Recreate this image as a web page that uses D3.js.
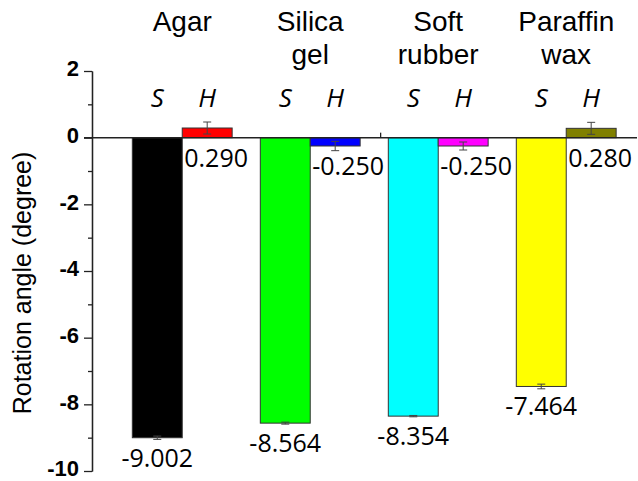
<!DOCTYPE html>
<html>
<head>
<meta charset="utf-8">
<script src="https://cdn.jsdelivr.net/npm/d3@7"></script>
<style>
  body { margin: 0; background: #fff; }
  svg { display: block; }
</style>
</head>
<body>
<div id="chart"></div>
<script>
// chart values
var groupLines = [['Agar'], ['Silica', 'gel'], ['Soft', 'rubber'], ['Paraffin', 'wax']];
var sValues = [-9.002, -8.564, -8.354, -7.464];
var sErrors = [0.05, 0.03, 0.02, 0.07];
var hValues = [0.290, -0.250, -0.250, 0.280];
var hErrors = [0.18, 0.14, 0.12, 0.18];
var sColors = ['#000000', '#00ff00', '#00ffff', '#ffff00'];
var hColors = ['#ff0000', '#0000ff', '#ff00ff', '#808000'];
var yMajor = [2, 0, -2, -4, -6, -8, -10];
var yMinor = [1, -1, -3, -5, -7, -9];
var xMarks = [1.55];

var width = 638, height = 481;

// plain hyphen for minus signs, as in the original
var locale = d3.formatLocale({decimal: '.', thousands: ',', grouping: [3], currency: ['', ''], minus: '-'});
var fmt3 = locale.format('.3f');
var fmtInt = locale.format('d');

var x = d3.scaleLinear().domain([-0.705, 3.553]).range([92, 637]);
var y = d3.scaleLinear().domain([-10, 2]).range([471, 71]);
var barW = x(0.39) - x(0);

var svg = d3.select('#chart').append('svg')
  .attr('width', width)
  .attr('height', height);

// y axis
var yAxis = d3.axisLeft(y)
  .tickValues(yMajor)
  .tickSize(8)
  .tickSizeOuter(0)
  .tickPadding(5)
  .tickFormat(fmtInt);

var yMinorAxis = d3.axisLeft(y)
  .tickValues(yMinor)
  .tickSize(4)
  .tickSizeOuter(0)
  .tickFormat('');

var gy = svg.append('g')
  .attr('class', 'y axis')
  .attr('transform', 'translate(' + x.range()[0] + ',0)')
  .call(yAxis);

gy.selectAll('text')
  .style('font-family', '"Liberation Sans", Arial, sans-serif')
  .style('font-weight', 'bold')
  .style('font-size', '22px')
  .attr('dy', '0.22em')
  .attr('fill', '#000');
gy.selectAll('line, path').attr('stroke', '#222').attr('stroke-width', 1.3);

svg.append('g')
  .attr('class', 'y minor axis')
  .attr('transform', 'translate(' + x.range()[0] + ',0)')
  .call(yMinorAxis)
  .selectAll('line, path').attr('stroke', '#222').attr('stroke-width', 1.3);

svg.append('text')
  .attr('transform', 'translate(22,283) rotate(-90)')
  .attr('text-anchor', 'middle')
  .attr('dominant-baseline', 'central')
  .style('font-family', '"Liberation Sans", Arial, sans-serif')
  .style('font-size', '25px')
  .text('Rotation angle (degree)');

// bars
var sBars = sValues.map(function(v, i) {
  return {v: v, e: sErrors[i], c: sColors[i], x0: x(i) - barW};
});
var hBars = hValues.map(function(v, i) {
  return {v: v, e: hErrors[i], c: hColors[i], x0: x(i)};
});
var allBars = sBars.concat(hBars);

svg.append('g').selectAll('rect')
  .data(allBars)
  .enter().append('rect')
  .attr('x', function(d) { return d.x0; })
  .attr('width', barW)
  .attr('y', function(d) { return y(Math.max(d.v, 0)); })
  .attr('height', function(d) { return Math.abs(y(d.v) - y(0)); })
  .attr('fill', function(d) { return d.c; })
  .attr('stroke', '#333')
  .attr('stroke-width', 1);

// error bars
var eb = svg.append('g').selectAll('g')
  .data(allBars)
  .enter().append('g')
  .attr('stroke', '#444')
  .attr('stroke-width', 1);
eb.append('line')
  .attr('x1', function(d) { return d.x0 + barW / 2; })
  .attr('x2', function(d) { return d.x0 + barW / 2; })
  .attr('y1', function(d) { return y(d.v + d.e); })
  .attr('y2', function(d) { return y(d.v - d.e); });
eb.selectAll('line.cap')
  .data(function(d) { return [d.v + d.e, d.v - d.e].map(function(t) { return {t: t, cx: d.x0 + barW / 2}; }); })
  .enter().append('line')
  .attr('class', 'cap')
  .attr('x1', function(d) { return d.cx - 4; })
  .attr('x2', function(d) { return d.cx + 4; })
  .attr('y1', function(d) { return y(d.t); })
  .attr('y2', function(d) { return y(d.t); });

// zero line
svg.append('line')
  .attr('x1', x.range()[0] - 8)
  .attr('x2', x.range()[1])
  .attr('y1', y(0))
  .attr('y2', y(0))
  .attr('stroke', '#222')
  .attr('stroke-width', 1.5);

svg.selectAll('line.xmark')
  .data(xMarks)
  .enter().append('line')
  .attr('class', 'xmark')
  .attr('x1', function(d) { return x(d); })
  .attr('x2', function(d) { return x(d); })
  .attr('y1', y(0))
  .attr('y2', y(0) - 5)
  .attr('stroke', '#222')
  .attr('stroke-width', 1.3);

// value labels
var valueFont = '"Open Sans", "Noto Sans", sans-serif';
svg.append('g').selectAll('text')
  .data(sBars)
  .enter().append('text')
  .attr('x', function(d) { return d.x0 + barW / 2; })
  .attr('y', function(d) { return y(d.v) + 29; })
  .attr('text-anchor', 'middle')
  .style('font-family', valueFont)
  .style('font-size', '25px')
  .text(function(d) { return fmt3(d.v); });

svg.append('g').selectAll('text')
  .data(hBars)
  .enter().append('text')
  .attr('x', function(d) { return d.x0 + 2; })
  .attr('y', function(d) { return y(Math.min(d.v, 0)) + 29; })
  .attr('text-anchor', 'start')
  .style('font-family', valueFont)
  .style('font-size', '25px')
  .text(function(d) { return fmt3(d.v); });

// S / H markers
var sh = svg.append('g').selectAll('g')
  .data(sValues)
  .enter().append('g');
sh.append('text')
  .attr('x', function(d, i) { return x(i) - barW / 2; })
  .attr('y', y(0) - 31)
  .text('S');
sh.append('text')
  .attr('x', function(d, i) { return x(i) + barW / 2; })
  .attr('y', y(0) - 31)
  .text('H');
sh.selectAll('text')
  .attr('text-anchor', 'middle')
  .style('font-family', valueFont)
  .style('font-style', 'italic')
  .style('font-size', '26px');

// group names
var gl = svg.append('g').selectAll('text')
  .data(groupLines)
  .enter().append('text')
  .attr('text-anchor', 'middle')
  .style('font-family', '"Liberation Sans", Arial, sans-serif')
  .style('font-size', '28px');
gl.selectAll('tspan')
  .data(function(d, i) { return d.map(function(t) { return {t: t, i: i}; }); })
  .enter().append('tspan')
  .attr('x', function(d) { return x(d.i); })
  .attr('y', function(d, j) { return 31 + j * 33; })
  .text(function(d) { return d.t; });
</script>
</body>
</html>
